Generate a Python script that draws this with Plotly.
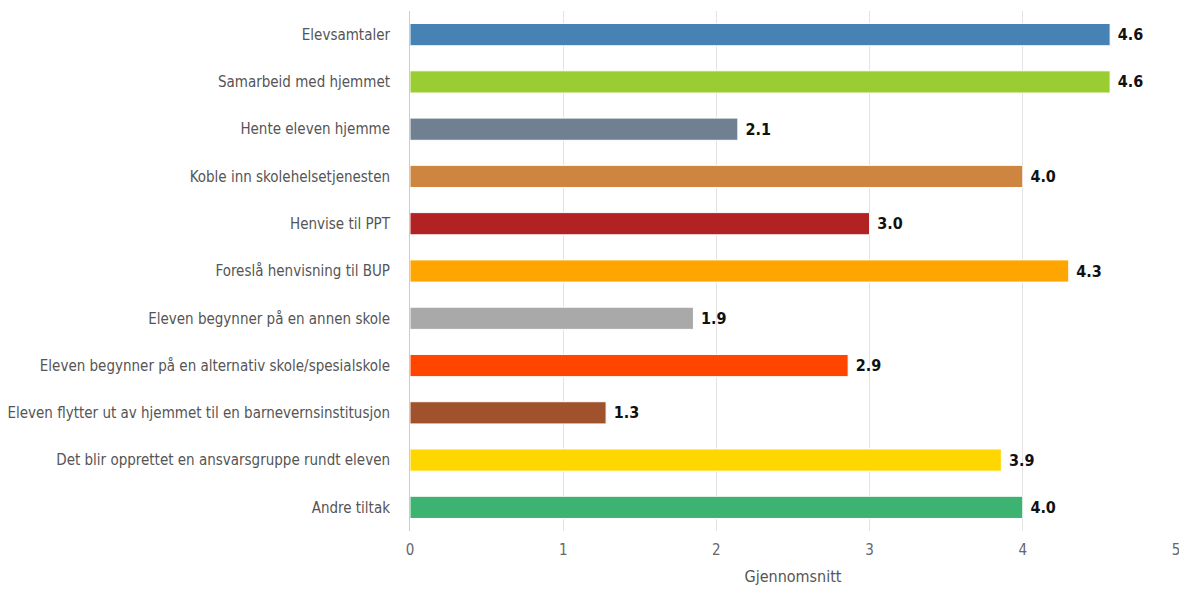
import plotly.graph_objects as go

categories = [
    "Elevsamtaler",
    "Samarbeid med hjemmet",
    "Hente eleven hjemme",
    "Koble inn skolehelsetjenesten",
    "Henvise til PPT",
    "Foreslå henvisning til BUP",
    "Eleven begynner på en annen skole",
    "Eleven begynner på en alternativ skole/spesialskole",
    "Eleven flytter ut av hjemmet til en barnevernsinstitusjon",
    "Det blir opprettet en ansvarsgruppe rundt eleven",
    "Andre tiltak",
]
values = [4.57, 4.57, 2.14, 4.0, 3.0, 4.3, 1.85, 2.86, 1.28, 3.86, 4.0]
colors = [
    "#4682B4", "#9ACD32", "#708090", "#CD853F", "#B22222", "#FFA500",
    "#A9A9A9", "#FF4500", "#A0522D", "#FFD700", "#3CB371",
]
x_ticks = [0, 1, 2, 3, 4, 5]

FONT = "Liberation Sans Narrow, DejaVu Sans Condensed, Open Sans, sans-serif"

fig = go.Figure(
    go.Bar(
        x=values,
        y=categories,
        orientation="h",
        marker=dict(color=colors, line=dict(color="white", width=1)),
        text=values,
        texttemplate="\u00a0<b>%{x:.1f}</b>",
        textposition="outside",
        textfont=dict(family=FONT, size=16, color="#111111"),
        cliponaxis=False,
        hoverinfo="skip",
    )
)

fig.update_layout(
    width=1179,
    height=592,
    margin=dict(l=410, r=3, t=11, b=61, autoexpand=False),
    paper_bgcolor="white",
    plot_bgcolor="white",
    bargap=0.53,
    showlegend=False,
    font=dict(family=FONT, size=15, color="#555555"),
)
fig.update_xaxes(
    range=[0, 5],
    tickvals=x_ticks,
    showgrid=True,
    gridcolor="#e3e3e3",
    gridwidth=1,
    zeroline=False,
    showline=False,
    ticks="",
    automargin=False,
    ticklabeloverflow="allow",
    ticklabelstandoff=8,
    tickfont=dict(family=FONT, size=15, color="#666666"),
    title=dict(text="Gjennomsnitt", font=dict(family=FONT, size=16, color="#555555"), standoff=12),
    fixedrange=True,
)
fig.update_yaxes(
    categoryorder="array",
    categoryarray=categories,
    autorange="reversed",
    showline=True,
    linecolor="#cccccc",
    linewidth=1,
    showgrid=False,
    ticks="",
    automargin=False,
    ticklabelstandoff=16,
    tickfont=dict(family=FONT, size=15, color="#555555"),
    fixedrange=True,
)

fig.write_html("out.html")
